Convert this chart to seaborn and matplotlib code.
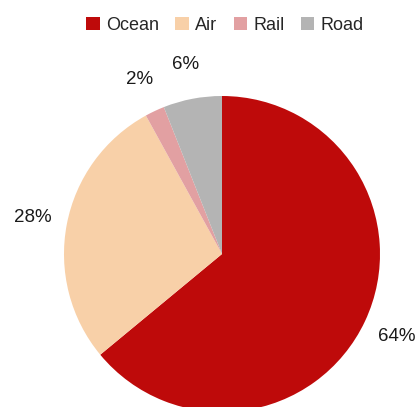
import matplotlib
matplotlib.use("Agg")
import matplotlib.pyplot as plt
import seaborn as sns
from matplotlib.patches import Patch

categories = ["Ocean", "Air", "Rail", "Road"]
shares = [64, 28, 2, 6]
colors = ["#BE0A0A", "#F8D0A8", "#E2A0A2", "#B4B4B4"]

sns.set_theme(style="white")
plt.rcParams['font.family'] = ['Liberation Sans', 'DejaVu Sans']

W, H = 419, 407
fig = plt.figure(figsize=(W / 100, H / 100), dpi=100)
ax = fig.add_axes([0, 0, 1, 1])

cx, cy, r = 222, H - 254, 158
wedges, texts, autotexts = ax.pie(
    shares, colors=colors, startangle=90, counterclock=False,
    center=(cx, cy), radius=r, autopct=lambda p: f"{p:.0f}%",
    pctdistance=1.22, textprops=dict(fontsize=13.5, color="#1a1a1a"),
    wedgeprops=dict(linewidth=0),
)
ax.set_xlim(0, W)
ax.set_ylim(0, H)
ax.set_aspect("equal", adjustable="datalim")
ax.axis("off")

handles = [Patch(facecolor=c, edgecolor="none") for c in colors]
fig.legend(handles, categories, loc="center", bbox_to_anchor=(225 / W, 1 - 25 / H),
           ncol=4, frameon=False, fontsize=13, handlelength=0.75, handleheight=0.75,
           handletextpad=0.35, columnspacing=0.9, borderaxespad=0)

fig.savefig("out.png", dpi=100)
